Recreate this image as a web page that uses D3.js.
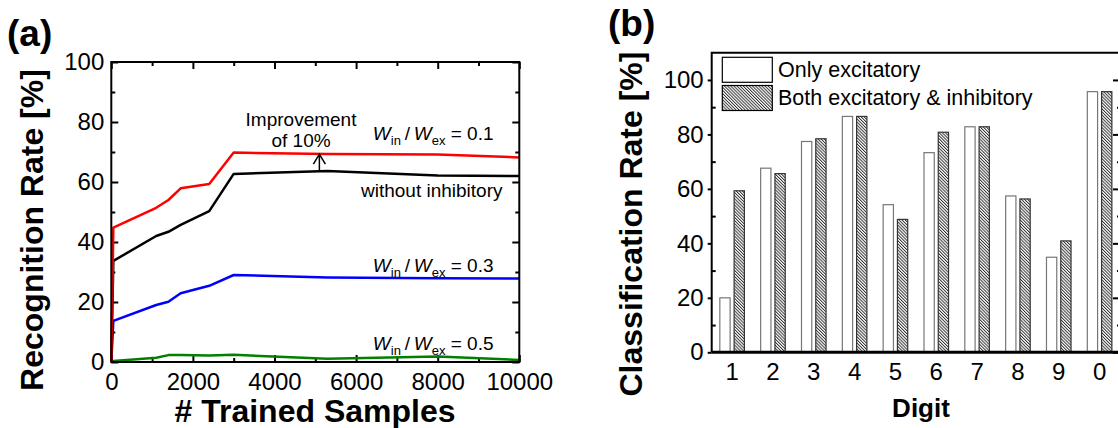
<!DOCTYPE html>
<html>
<head>
<meta charset="utf-8">
<script src="https://cdn.jsdelivr.net/npm/d3@7"></script>
<style>
  body { margin: 0; background: #fff; }
  svg { display: block; }
  text { font-family: "Liberation Sans", Arial, sans-serif; fill: #000; }
</style>
</head>
<body>
<div class="canvas"></div>
<script>
// panel (a): recognition rate vs trained samples
const samples = [0, 50, 1100, 1400, 1700, 2400, 3000, 5300, 8000, 10000];
const rateRatio01 = [0, 44.8, 51.4, 54.0, 57.9, 59.3, 69.8, 69.3, 69.2, 68.2];
const rateWithout = [0, 33.7, 42.0, 43.4, 45.7, 50.3, 62.7, 63.7, 62.2, 62.0];
const rateRatio03 = [0, 13.7, 19.0, 20.1, 22.9, 25.4, 29.0, 28.2, 27.9, 27.8];
const rateRatio05 = [0, 0.3, 1.4, 2.3, 2.3, 2.2, 2.4, 1.1, 1.8, 0.7];
const xTicksA = [0, 2000, 4000, 6000, 8000, 10000];
const yTicksA = [0, 20, 40, 60, 80, 100];

// panel (b): classification rate per digit
const digits = ['1', '2', '3', '4', '5', '6', '7', '8', '9', '0'];
const onlyExcitatory = [20.0, 67.6, 77.4, 86.6, 54.2, 73.3, 82.8, 57.4, 34.9, 95.7];
const bothExcInh = [59.3, 65.6, 78.4, 86.6, 48.8, 80.8, 82.8, 56.3, 40.9, 95.7];
const yTicksB = [0, 20, 40, 60, 80, 100];
const seriesB = ['Only excitatory', 'Both excitatory & inhibitory'];

const svg = d3.select('.canvas')
  .append('svg')
  .attr('width', 1118)
  .attr('height', 428);

const defs = svg.append('defs');
const hatch = defs.append('pattern')
  .attr('id', 'hatch')
  .attr('patternUnits', 'userSpaceOnUse')
  .attr('width', 2.2)
  .attr('height', 2.2)
  .attr('patternTransform', 'rotate(-45)');
hatch.append('rect').attr('width', 2.2).attr('height', 2.2).attr('fill', '#fff');
hatch.append('line')
  .attr('x1', 0.5).attr('y1', 0).attr('x2', 0.5).attr('y2', 2.2)
  .attr('stroke', '#222').attr('stroke-width', 0.9);

// ---------- panel (a) ----------
const xA = d3.scaleLinear().domain([0, 10000]).range([111.3, 519.3]);
const yA = d3.scaleLinear().domain([0, 100]).range([362, 62]);

const ga = svg.append('g');

function tickAxis(g, axis, transform) {
  const a = g.append('g').attr('transform', transform).call(axis);
  a.select('.domain').remove();
  a.selectAll('line').attr('stroke', '#000').attr('stroke-width', 2);
  a.selectAll('text').attr('font-size', 24).attr('fill', '#000');
  return a;
}

// major + minor ticks, all pointing inward
tickAxis(ga, d3.axisBottom(xA).tickValues(xTicksA).tickFormat(d3.format('d')).tickSize(-7).tickPadding(11), `translate(0,${yA(0)})`);
tickAxis(ga, d3.axisBottom(xA).tickValues(d3.range(1000, 10000, 2000)).tickSize(-4).tickFormat(''), `translate(0,${yA(0)})`);
tickAxis(ga, d3.axisTop(xA).tickValues(xTicksA).tickSize(-7).tickFormat(''), `translate(0,${yA(100)})`);
tickAxis(ga, d3.axisTop(xA).tickValues(d3.range(1000, 10000, 2000)).tickSize(-4).tickFormat(''), `translate(0,${yA(100)})`);
tickAxis(ga, d3.axisLeft(yA).tickValues(yTicksA).tickSize(-7).tickPadding(7), `translate(${xA(0)},0)`);
tickAxis(ga, d3.axisLeft(yA).tickValues(d3.range(10, 100, 20)).tickSize(-4).tickFormat(''), `translate(${xA(0)},0)`);
tickAxis(ga, d3.axisRight(yA).tickValues(yTicksA).tickSize(-7).tickFormat(''), `translate(${xA(10000)},0)`);
tickAxis(ga, d3.axisRight(yA).tickValues(d3.range(10, 100, 20)).tickSize(-4).tickFormat(''), `translate(${xA(10000)},0)`);

const line = d3.line()
  .x((d, i) => xA(samples[i]))
  .y(d => yA(d));

const linesA = [
  { values: rateRatio05, color: '#008000' },
  { values: rateRatio03, color: '#0000ff' },
  { values: rateWithout, color: '#000000' },
  { values: rateRatio01, color: '#ff0000' },
];
ga.selectAll('path.series')
  .data(linesA)
  .enter().append('path')
  .attr('class', 'series')
  .attr('d', d => line(d.values))
  .attr('fill', 'none')
  .attr('stroke', d => d.color)
  .attr('stroke-width', 2.5)
  .attr('stroke-linejoin', 'round');

ga.append('rect')
  .attr('x', xA(0)).attr('y', yA(100))
  .attr('width', xA(10000) - xA(0)).attr('height', yA(0) - yA(100))
  .attr('fill', 'none').attr('stroke', '#000').attr('stroke-width', 2);

// annotations
function ratioLabel(x, y, val) {
  const t = ga.append('text')
    .attr('x', xA(x)).attr('y', yA(y))
    .attr('font-size', 19);
  t.append('tspan').attr('font-style', 'italic').text('W');
  t.append('tspan').attr('font-size', 13).attr('dy', 5).text('in');
  t.append('tspan').attr('dy', -5).text('\u2009/\u2009');
  t.append('tspan').attr('font-style', 'italic').text('W');
  t.append('tspan').attr('font-size', 13).attr('dy', 5).text('ex');
  t.append('tspan').attr('dy', -5).text(' = ' + val);
}
ratioLabel(6410, 74, '0.1');
ratioLabel(6410, 30, '0.3');
ratioLabel(6410, 4, '0.5');

ga.append('text').attr('x', xA(6120)).attr('y', yA(55.1))
  .attr('font-size', 19).text('without inhibitory');
ga.append('text').attr('x', xA(4650)).attr('y', yA(78.7))
  .attr('font-size', 19).attr('text-anchor', 'middle').text('Improvement');
ga.append('text').attr('x', xA(4650)).attr('y', yA(71.8))
  .attr('font-size', 19).attr('text-anchor', 'middle').text('of 10%');

const ax = xA(5100), ayTop = yA(69.3), ayBot = yA(63.5);
ga.append('path')
  .attr('d', `M${ax},${ayBot}V${ayTop}M${ax - 6},${ayTop + 10}L${ax},${ayTop}L${ax + 6},${ayTop + 10}`)
  .attr('fill', 'none').attr('stroke', '#000').attr('stroke-width', 1.5);

ga.append('text')
  .attr('x', 315).attr('y', 422)
  .attr('text-anchor', 'middle')
  .attr('font-size', 32).attr('font-weight', 'bold')
  .text('# Trained Samples');
ga.append('text')
  .attr('transform', 'translate(43,230) rotate(-90)')
  .attr('text-anchor', 'middle')
  .attr('font-size', 32).attr('font-weight', 'bold')
  .text('Recognition Rate [%]');
ga.append('text')
  .attr('x', 7).attr('y', 46)
  .attr('font-size', 37).attr('font-weight', 'bold')
  .text('(a)');

// ---------- panel (b) ----------
const xB = d3.scaleBand().domain(digits).range([711.7, 1120]).padding(0);
const xInner = d3.scaleBand().domain(seriesB).range([0, xB.bandwidth()])
  .paddingInner(0.28).paddingOuter(0.57);
const yB = d3.scaleLinear().domain([0, 110]).range([352.3, 52.7]);

const gb = svg.append('g');

const barData = [];
digits.forEach((d, i) => {
  barData.push({ digit: d, series: seriesB[0], value: onlyExcitatory[i] });
  barData.push({ digit: d, series: seriesB[1], value: bothExcInh[i] });
});

gb.selectAll('rect.bar')
  .data(barData)
  .enter().append('rect')
  .attr('class', 'bar')
  .attr('x', d => xB(d.digit) + xInner(d.series))
  .attr('y', d => yB(d.value))
  .attr('width', xInner.bandwidth())
  .attr('height', d => yB(0) - yB(d.value))
  .attr('fill', d => d.series === seriesB[0] ? '#fff' : 'url(#hatch)')
  .attr('stroke', d => d.series === seriesB[0] ? '#777' : '#333')
  .attr('stroke-width', 1.2);

tickAxis(gb, d3.axisLeft(yB).tickValues(yTicksB).tickSizeInner(4).tickSizeOuter(0).tickPadding(4), `translate(${xB.range()[0]},0)`);
tickAxis(gb, d3.axisLeft(yB).tickValues(d3.range(10, 110, 20)).tickSize(-4).tickFormat(''), `translate(${xB.range()[0]},0)`);
tickAxis(gb, d3.axisRight(yB).tickValues(yTicksB).tickSize(-7).tickFormat(''), `translate(${xB.range()[1]},0)`);
tickAxis(gb, d3.axisRight(yB).tickValues(d3.range(10, 110, 20)).tickSize(-3).tickFormat(''), `translate(${xB.range()[1]},0)`);
tickAxis(gb, d3.axisBottom(xB).tickSize(0).tickPadding(11), `translate(0,${yB(0)})`);

gb.append('line')
  .attr('x1', xB.range()[0]).attr('x2', xB.range()[1])
  .attr('y1', yB(0)).attr('y2', yB(0))
  .attr('stroke', '#000').attr('stroke-width', 3);
gb.append('path')
  .attr('d', `M${xB.range()[0]},${yB(0)}V${yB(110)}H${xB.range()[1]}V${yB(0)}`)
  .attr('fill', 'none').attr('stroke', '#000').attr('stroke-width', 2);

// legend
const legend = gb.append('g');
seriesB.forEach((s, i) => {
  legend.append('rect')
    .attr('x', 722.3).attr('y', 57.3 + i * 28.2)
    .attr('width', 50).attr('height', 25)
    .attr('fill', i === 0 ? '#fff' : 'url(#hatch)')
    .attr('stroke', '#000').attr('stroke-width', 1.2);
  legend.append('text')
    .attr('x', 778).attr('y', 77 + i * 27.5)
    .attr('font-size', 21.5)
    .text(s);
});

gb.append('text')
  .attr('x', 921).attr('y', 417)
  .attr('text-anchor', 'middle')
  .attr('font-size', 26).attr('font-weight', 'bold')
  .text('Digit');
gb.append('text')
  .attr('transform', 'translate(642,224) rotate(-90)')
  .attr('text-anchor', 'middle')
  .attr('font-size', 32).attr('font-weight', 'bold')
  .text('Classification Rate [%]');
gb.append('text')
  .attr('x', 608).attr('y', 36)
  .attr('font-size', 37).attr('font-weight', 'bold')
  .text('(b)');
</script>
</body>
</html>
